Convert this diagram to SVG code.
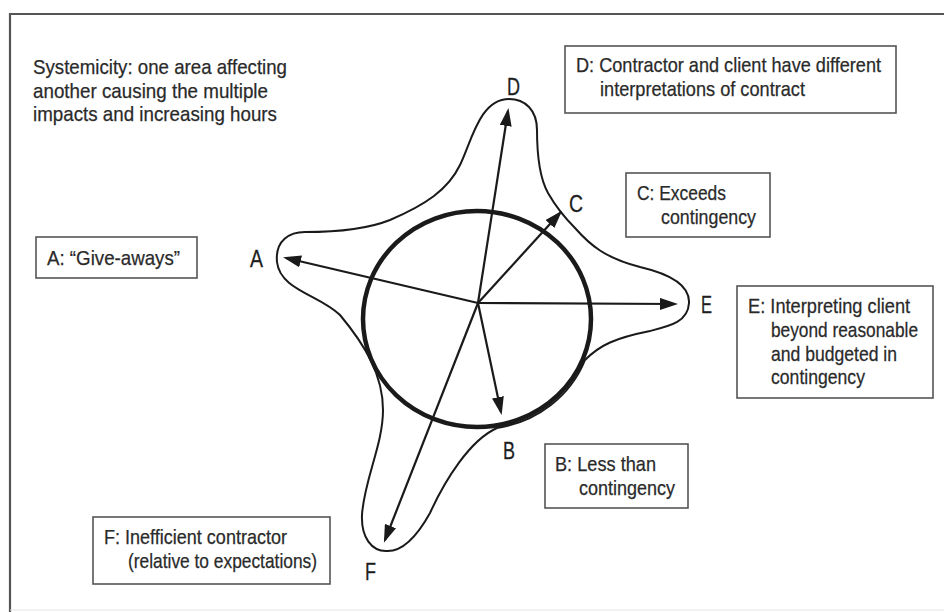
<svg xmlns="http://www.w3.org/2000/svg" width="944" height="612" viewBox="0 0 944 612">
<defs>
<marker id="ah" markerUnits="userSpaceOnUse" markerWidth="18" markerHeight="12" refX="15" refY="6" orient="auto">
<path d="M0,0 L18,6 L0,12 z" fill="#1a1a1a"/>
</marker>
<style>
text{font-family:"Liberation Sans","Arial",sans-serif;fill:#2a2a2a;font-size:21px;stroke:#2a2a2a;stroke-width:0.25}
.lbl{font-size:24px;fill:#1e1e1e;stroke:#1e1e1e;stroke-width:0.3}
.box{fill:#fff;stroke:#555;stroke-width:1.6}
.arr{stroke:#1a1a1a;stroke-width:2.2;fill:none;marker-end:url(#ah)}
</style>
</defs>
<rect width="944" height="612" fill="#fff"/>
<path d="M10 612 V14 H944" fill="none" stroke="#555" stroke-width="2.2"/>
<line x1="10" y1="610" x2="944" y2="610" stroke="#e4e4e4" stroke-width="1"/>

<g id="title">
<text x="33" y="74" textLength="254" lengthAdjust="spacingAndGlyphs">Systemicity: one area affecting</text>
<text x="33" y="98" textLength="235" lengthAdjust="spacingAndGlyphs">another causing the multiple</text>
<text x="33" y="121" textLength="244" lengthAdjust="spacingAndGlyphs">impacts and increasing hours</text>
</g>

<g id="blob">
<path d="M509 99 C525 99 537 110 537 130 C537 150 538 175 548 193 C556 207 565 218 575 228 C590 245 605 258 640 267 C670 274 690 285 689 303 C688 322 670 326 650 331 C615 338 600 345 585 360 A113 108 0 0 1 497 428 C470 440 445 480 430 513 C415 540 400 552 386 551 C372 551 361 538 362 515 C364 480 383 445 383 410 C383 375 365 345 340 315 C320 295 280 290 277 262 C275 240 290 232 305 232 C335 232 365 230 390 220 C425 205 448 190 460 165 C472 140 480 99 509 99 Z" fill="none" stroke="#1a1a1a" stroke-width="2"/>
</g>

<g id="circle">
<ellipse cx="477" cy="319" rx="114" ry="108" fill="none" stroke="#1a1a1a" stroke-width="4.5"/>
</g>

<g id="connectors">
<line class="arr" x1="478" y1="303" x2="286" y2="258"/>
<line class="arr" x1="478" y1="303" x2="508" y2="111"/>
<line class="arr" x1="478" y1="303" x2="560" y2="213"/>
<line class="arr" x1="478" y1="303" x2="675" y2="304"/>
<line class="arr" x1="478" y1="303" x2="501" y2="412"/>
<line class="arr" x1="478" y1="303" x2="385" y2="540"/>
</g>

<g id="labels">
<text class="lbl" x="250" y="267" textLength="13" lengthAdjust="spacingAndGlyphs">A</text>
<text class="lbl" x="507" y="95" textLength="13" lengthAdjust="spacingAndGlyphs">D</text>
<text class="lbl" x="569" y="212" textLength="14" lengthAdjust="spacingAndGlyphs">C</text>
<text class="lbl" x="701" y="313" textLength="11" lengthAdjust="spacingAndGlyphs">E</text>
<text class="lbl" x="503" y="459" textLength="12" lengthAdjust="spacingAndGlyphs">B</text>
<text class="lbl" x="365" y="580" textLength="11" lengthAdjust="spacingAndGlyphs">F</text>
</g>

<g id="node-A">
<rect class="box" x="36" y="237" width="161" height="41"/>
<text x="47" y="265" textLength="133" lengthAdjust="spacingAndGlyphs">A: “Give-aways”</text>
</g>

<g id="node-D">
<rect class="box" x="565" y="46" width="331" height="67"/>
<text x="576" y="72" textLength="305" lengthAdjust="spacingAndGlyphs">D: Contractor and client have different</text>
<text x="600" y="96" textLength="205" lengthAdjust="spacingAndGlyphs">interpretations of contract</text>
</g>

<g id="node-C">
<rect class="box" x="626" y="173" width="144" height="64"/>
<text x="637" y="200" textLength="89" lengthAdjust="spacingAndGlyphs">C: Exceeds</text>
<text x="661" y="224" textLength="95" lengthAdjust="spacingAndGlyphs">contingency</text>
</g>

<g id="node-E">
<rect class="box" x="737" y="286" width="196" height="112"/>
<g transform="matrix(0.82 0 0 1 771 0)">
<text x="-28" y="313" textLength="197.6" lengthAdjust="spacingAndGlyphs">E: Interpreting client</text>
<text x="0" y="337" textLength="179.3" lengthAdjust="spacingAndGlyphs">beyond reasonable</text>
<text x="0" y="361" textLength="153.7" lengthAdjust="spacingAndGlyphs">and budgeted in</text>
<text x="0" y="384" textLength="114.6" lengthAdjust="spacingAndGlyphs">contingency</text>
</g>
</g>

<g id="node-B">
<rect class="box" x="545" y="444" width="143" height="64"/>
<text x="555" y="471" textLength="101" lengthAdjust="spacingAndGlyphs">B: Less than</text>
<text x="579" y="495" textLength="96" lengthAdjust="spacingAndGlyphs">contingency</text>
</g>

<g id="node-F">
<rect class="box" x="93" y="517" width="237" height="67"/>
<text x="104" y="544" textLength="183" lengthAdjust="spacingAndGlyphs">F: Inefficient contractor</text>
<text x="128" y="568" textLength="189" lengthAdjust="spacingAndGlyphs">(relative to expectations)</text>
</g>
</svg>
